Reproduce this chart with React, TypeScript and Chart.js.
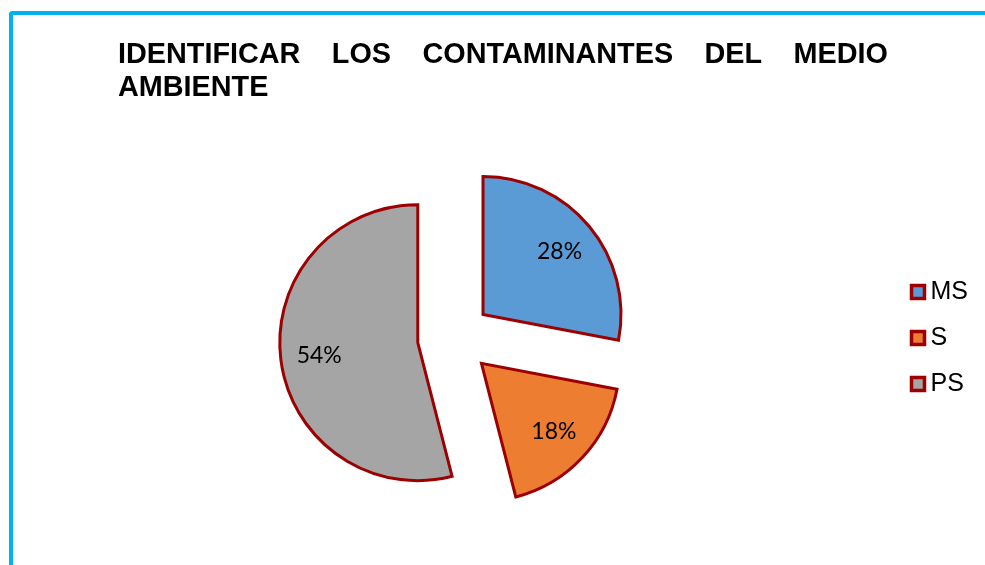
import React, { useEffect, useRef } from 'react';
import { Chart, registerables } from 'chart.js';

Chart.register(...registerables);

const TITLE = 'IDENTIFICAR LOS CONTAMINANTES DEL MEDIO AMBIENTE';
const categories = ['MS', 'S', 'PS'];
const values = [28, 18, 54];
const sliceColors = ['#5B9BD5', '#ED7D31', '#A5A5A5'];
const sliceBorder = '#9C0000';
const frameColor = '#00B0F0';

const EXPLODE = 148; // Chart.js draws the offset at 1/4 -> ~37px
const RADIUS = 138;
const LABEL_POS = 0.72;

const titlePlugin = {
  id: 'justifiedTitle',
  afterDraw(chart: any) {
    const ctx = chart.ctx;
    const left = 118;
    const right = 888;
    const firstBaseline = 62.5;
    const lineH = 33.3;
    ctx.save();
    ctx.font = 'bold 28.8px "Liberation Sans", Arial, sans-serif';
    ctx.fillStyle = '#000';
    ctx.textBaseline = 'alphabetic';
    ctx.textAlign = 'left';
    const words = TITLE.split(' ');
    const space = ctx.measureText(' ').width;
    const maxW = right - left;
    const lines: string[][] = [];
    let cur: string[] = [];
    let curW = 0;
    for (const w of words) {
      const ww = ctx.measureText(w).width;
      const add = cur.length ? space + ww : ww;
      if (cur.length && curW + add > maxW) {
        lines.push(cur);
        cur = [w];
        curW = ww;
      } else {
        cur.push(w);
        curW += add;
      }
    }
    if (cur.length) lines.push(cur);
    lines.forEach((ln, li) => {
      const y = firstBaseline + li * lineH;
      const widths = ln.map((w) => ctx.measureText(w).width);
      const total = widths.reduce((a, b) => a + b, 0);
      const justify = li < lines.length - 1 && ln.length > 1;
      const gap = justify ? (maxW - total) / (ln.length - 1) : space;
      let x = left;
      ln.forEach((w, i) => {
        ctx.fillText(w, x, y);
        x += widths[i] + gap;
      });
    });
    ctx.restore();
  },
};

// Chart.js changes radius and angles of exploded slices depending on their
// circumference; neutralise that so every slice keeps its exact geometry.
const explodeFixPlugin = {
  id: 'explodeFix',
  beforeDatasetsDraw(chart: any) {
    const meta = chart.getDatasetMeta(0);
    meta.data.forEach((el: any) => {
      el.circumference = Math.PI / 2;
      el.outerRadius = RADIUS;
    });
  },
};

const percentPlugin = {
  id: 'percentLabels',
  afterDatasetsDraw(chart: any) {
    const ctx = chart.ctx;
    const meta = chart.getDatasetMeta(0);
    const total = values.reduce((a, b) => a + b, 0);
    ctx.save();
    ctx.font = '23px Lato, "Open Sans", sans-serif';
    ctx.fillStyle = '#000';
    ctx.textAlign = 'center';
    ctx.textBaseline = 'middle';
    meta.data.forEach((el: any, i: number) => {
      const mid = (el.startAngle + el.endAngle) / 2;
      const off = (el.options.offset || 0) / 4;
      const r = off + RADIUS * LABEL_POS;
      const x = el.x + Math.cos(mid) * r;
      const y = el.y + Math.sin(mid) * r;
      ctx.fillText(Math.round((values[i] / total) * 100) + '%', x, y);
    });
    ctx.restore();
  },
};

export default function App() {
  const canvasRef = useRef<HTMLCanvasElement | null>(null);

  useEffect(() => {
    if (!canvasRef.current) return;
    const chart = new Chart(canvasRef.current, {
      type: 'pie',
      data: {
        labels: categories,
        datasets: [
          {
            data: values,
            backgroundColor: sliceColors,
            borderColor: sliceBorder,
            borderWidth: 3,
            borderJoinStyle: 'miter',
            offset: EXPLODE,
            hoverOffset: EXPLODE,
            radius: RADIUS,
          } as any,
        ],
      },
      options: {
        animation: false,
        responsive: true,
        maintainAspectRatio: false,
        radius: RADIUS,
        events: [],
        layout: { padding: { left: 12, right: 7, top: 111, bottom: 0 } },
        plugins: {
          title: { display: false },
          tooltip: { enabled: false },
          legend: {
            position: 'right',
            align: 'center',
            labels: {
              usePointStyle: true,
              pointStyle: 'rect',
              boxWidth: 0.01,
              boxHeight: 13,
              padding: 21,
              color: '#000',
              font: { family: '"Liberation Sans", Arial, sans-serif', size: 25 },
              generateLabels: (c: any) =>
                c.data.labels.map((label: string, i: number) => ({
                  text: label,
                  fillStyle: sliceColors[i],
                  strokeStyle: sliceBorder,
                  lineWidth: 3.5,
                  pointStyle: 'rect',
                  fontColor: '#000',
                  hidden: false,
                  index: i,
                })),
            },
          },
        },
      } as any,
      plugins: [explodeFixPlugin, percentPlugin, titlePlugin],
    });
    return () => chart.destroy();
  }, []);

  return (
    <div
      style={{
        position: 'fixed',
        left: 0,
        top: 0,
        width: 985,
        height: 565,
        overflow: 'hidden',
        background: '#fff',
      }}
    >
      <div
        style={{
          position: 'absolute',
          left: 9,
          top: 11,
          width: 1100,
          height: 700,
          borderTop: `4px solid ${frameColor}`,
          borderLeft: `4px solid ${frameColor}`,
          borderTopLeftRadius: 4,
        }}
      />
      <div style={{ position: 'absolute', left: 0, top: 0, width: 985, height: 565 }}>
        <canvas ref={canvasRef} />
      </div>
    </div>
  );
}
